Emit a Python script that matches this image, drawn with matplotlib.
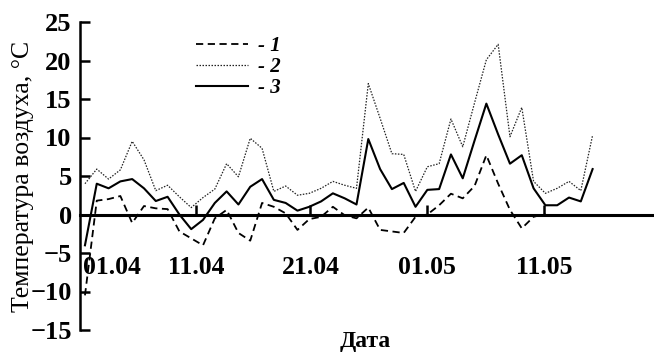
import matplotlib.pyplot as plt
import numpy as np

# daily air temperature, 01.04 - mid May
t_min = [-10.5, 1.8, 2.0, 2.4, -1.1, 1.1, 0.8, 0.7, -2.2, -3.1,
         -4.0, -0.5, 0.6, -2.4, -3.4, 1.5, 1.0, 0.15, -2.0, -0.6,
         -0.3, 1.0, -0.1, -0.5, 0.9, -2.0, -2.2, -2.4, -0.3, 0.0,
         1.2, 2.7, 2.1, 3.7, 7.7, 4.0, 0.6, -1.8, -0.3, 0.1]
t_max = [4.0, 5.9, 4.6, 5.8, 9.5, 7.1, 3.1, 3.8, 2.3, 0.9,
         2.2, 3.3, 6.6, 4.9, 9.9, 8.6, 3.0, 3.7, 2.5, 2.75,
         3.4, 4.3, 3.8, 3.4, 17.0, 12.5, 7.9, 7.8, 3.0, 6.2,
         6.6, 12.4, 8.8, 14.5, 20.1, 22.1, 10.1, 13.9, 4.3, 2.75,
         3.4, 4.3, 3.1, 10.3]
t_mean = [-4.0, 4.0, 3.4, 4.3, 4.6, 3.4, 1.75, 2.3, 0.0, -1.9,
          -0.7, 1.5, 3.0, 1.3, 3.6, 4.6, 1.9, 1.5, 0.5, 1.0,
          1.7, 2.75, 2.1, 1.3, 9.8, 5.9, 3.3, 4.1, 1.0, 3.2,
          3.3, 7.8, 4.7, 9.6, 14.4, 10.4, 6.6, 7.7, 3.4, 1.2,
          1.2, 2.2, 1.7, 5.9]
date_labels = ["11.04", "21.04", "01.05", "11.05"]
date_pos = [9.4, 19.1, 29.0, 38.9]
first_label = "01.04"
first_pos = 2.3

plt.rcParams['font.family'] = ['Liberation Serif', 'DejaVu Serif']

days = np.arange(len(t_max))

fig = plt.figure(figsize=(6.54, 3.53), dpi=100)
ax = fig.add_axes([80 / 654, 23 / 353, 574 / 654, 308 / 353])

ax.plot(days[:len(t_min)], t_min, color='black', lw=1.3, ls=(0, (4, 2.5)), label='- 1')
ax.plot(days, t_max, color='#222222', lw=0.9, ls=(0, (1.2, 1.2)), label='- 2')
ax.plot(days, t_mean, color='black', lw=1.5, label='- 3')

ax.set_xlim(-0.42, 48.2)
ax.set_ylim(-15, 25)
ax.set_yticks(np.arange(-15, 26, 5))

ax.spines['top'].set_visible(False)
ax.spines['right'].set_visible(False)
ax.spines['bottom'].set_position(('data', 0))
ax.spines['bottom'].set_linewidth(2.2)
ax.spines['left'].set_linewidth(1.8)

ax.set_xticks(date_pos, labels=date_labels)
ax.set_xticks([first_pos], labels=[first_label], minor=True)
ax.tick_params(axis='x', which='major', direction='in', length=7, width=1.8, pad=30)
ax.tick_params(axis='x', which='minor', length=0, pad=30)
ax.tick_params(axis='y', direction='in', length=7, width=1.8, pad=6)
for lab in ax.get_xticklabels(which='both'):
    lab.set_fontsize(18.5)
    lab.set_fontweight('bold')
for lab in ax.get_yticklabels():
    lab.set_fontsize(19)
    lab.set_fontweight('bold')

ax.set_ylabel("Температура воздуха, °C", fontsize=18.5)
ax.yaxis.set_label_coords(-0.08, 0.5)
fig.text(365 / 654, 1 - 341 / 353, "Дата", fontsize=17, fontweight='bold',
         ha='center', va='center')

ax.legend(loc='upper left', bbox_to_anchor=(196 / 654, 1 - 36 / 353),
          bbox_transform=fig.transFigure, frameon=False, borderpad=0,
          borderaxespad=0, handlelength=2.5, handletextpad=0.5,
          labelspacing=0.05, prop={'style': 'italic', 'weight': 'bold', 'size': 15})

plt.savefig("out.png", dpi=100)
